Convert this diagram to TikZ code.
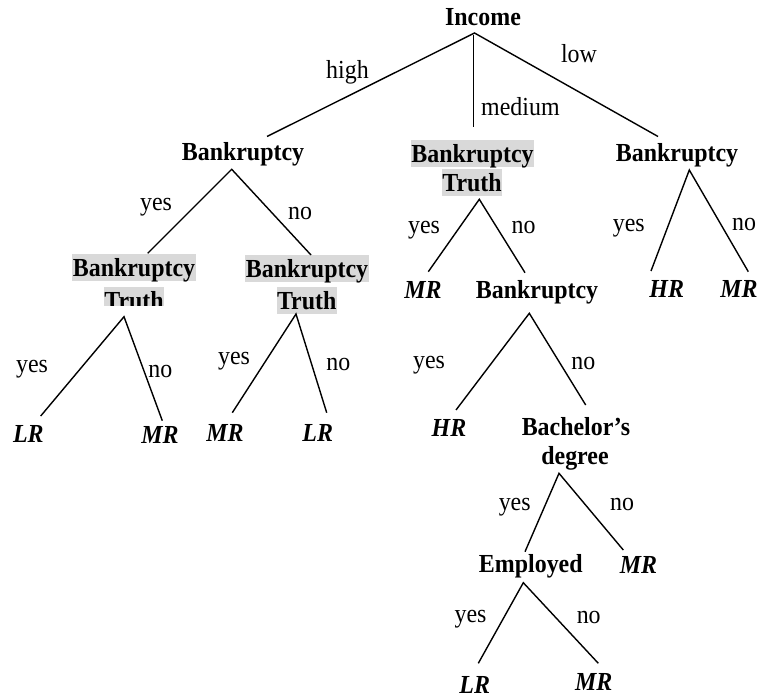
\documentclass[tikz,border=0pt]{standalone}
\usepackage{fontspec}
\setmainfont[FakeStretch=0.92]{Liberation Serif}
\usetikzlibrary{calc}
\definecolor{shade}{RGB}{217,217,217}
\begin{document}
\begin{tikzpicture}[x=1pt,y=-1pt,
  txt/.style={anchor=base,inner sep=0pt,font=\fontsize{26}{29}\selectfont},
  attr/.style={txt,font=\fontsize{26}{29}\selectfont\bfseries},
  hl/.style={attr,fill=shade,text height=22pt,text depth=4pt,inner xsep=0.5pt,inner ysep=0.5pt},
  leaf/.style={txt,font=\fontsize{26}{29}\selectfont\bfseries\itshape},
  branch/.style={draw,line width=1.4pt}]
\useasboundingbox (0,0) rectangle (759,698);

% root
\node[attr] (inc) at (483,26) {Income};
\node[txt] (lhigh) at (347.5,79) {high};
\node[txt,anchor=base west] (lmed) at (481,115) {medium};
\node[txt] (llow) at (579,63) {low};

% second level
\node[attr] (bkl) at (243,160) {Bankruptcy};
\node[hl] (bkm) at (472.5,162) {Bankruptcy};
\node[hl] (trm) at (472,191) {Truth};
\node[attr] (bkr) at (677,161.5) {Bankruptcy};

% left subtree
\node[hl] (bk1) at (134,276.5) {Bankruptcy};
\begin{scope}
  \clip (0,0) rectangle (759,305);
  \node[hl] (tr1) at (134,309) {Truth};
\end{scope}
\node[hl] (bk2) at (307,277.5) {Bankruptcy};
\node[hl] (tr2) at (306.7,309.5) {Truth};
\node[txt] (ly1) at (156,210) {yes};
\node[txt] (ln1) at (300,219) {no};

\node[leaf] (lr1) at (28.3,442.7) {LR};
\node[leaf] (mr1) at (160,443) {MR};
\node[leaf] (mr2) at (225,441.7) {MR};
\node[leaf] (lr2) at (317.7,441.7) {LR};
\node[txt] (ly2) at (32,372) {yes};
\node[txt] (ln2) at (160.3,377) {no};
\node[txt] (ly3) at (234,364) {yes};
\node[txt] (ln3) at (338.3,370) {no};

% middle subtree
\node[leaf] (mrm) at (423,298) {MR};
\node[attr] (bkc) at (537,298) {Bankruptcy};
\node[txt] (my1) at (424,233) {yes};
\node[txt] (mn1) at (523.7,233) {no};
\node[leaf] (hrm) at (449,436) {HR};
\node[attr] (bac) at (576,435) {Bachelor’s};
\node[attr] (deg) at (575,464) {degree};
\node[txt] (my2) at (429,368) {yes};
\node[txt] (mn2) at (583.3,369) {no};
\node[attr] (emp) at (530.8,572) {Employed};
\node[leaf] (mr3) at (638.5,573) {MR};
\node[txt] (my3) at (514.7,510) {yes};
\node[txt] (mn3) at (622,510) {no};
\node[leaf] (lr3) at (474.7,693) {LR};
\node[leaf] (mr4) at (593.8,690) {MR};
\node[txt] (my4) at (470.5,622) {yes};
\node[txt] (mn4) at (588.7,623) {no};

% right subtree
\node[leaf] (hrr) at (666.7,297) {HR};
\node[leaf] (mrr) at (739,297) {MR};
\node[txt] (ry1) at (628.8,231) {yes};
\node[txt] (rn1) at (744,230) {no};

% branches
\draw[branch] ($(bkl.base)+(24,-23.5)$) -- ($(inc.base)+(-8.5,7)$) -- ($(bkr.base)+(-19,-25)$);
\draw[branch] ($(inc.base)+(-9.5,9)$) -- ($(bkm.base)+(1,-35)$);

\draw[branch] ($(bk1.base)+(13.7,-23.2)$) -- ($(bkl.base)+(-11.3,9.3)$) -- ($(bk2.base)+(4,-22.5)$);
\draw[branch] ($(lr1.base)+(12.4,-26.7)$) -- ($(tr1.base)+(-10,7.7)$) -- ($(mr1.base)+(2.3,-22.3)$);
\draw[branch] ($(mr2.base)+(7.3,-29)$) -- ($(tr2.base)+(-10.7,4.5)$) -- ($(lr2.base)+(9,-29)$);

\draw[branch] ($(mrm.base)+(5.3,-26.3)$) -- ($(trm.base)+(7.3,8.3)$) -- ($(bkc.base)+(-12,-25.3)$);
\draw[branch] ($(hrm.base)+(7,-26)$) -- ($(bkc.base)+(-7.7,15.3)$) -- ($(bac.base)+(9.7,-30)$);
\draw[branch] ($(emp.base)+(-5.8,-20.3)$) -- ($(deg.base)+(-16,9.3)$) -- ($(mr3.base)+(-15.2,-23)$);
\draw[branch] ($(lr3.base)+(3.6,-29.7)$) -- ($(emp.base)+(-7.5,10.7)$) -- ($(mr4.base)+(4.5,-26.7)$);

\draw[branch] ($(hrr.base)+(-15.7,-26)$) -- ($(bkr.base)+(12.3,8.5)$) -- ($(mrr.base)+(9.3,-25.3)$);
\end{tikzpicture}
\end{document}
